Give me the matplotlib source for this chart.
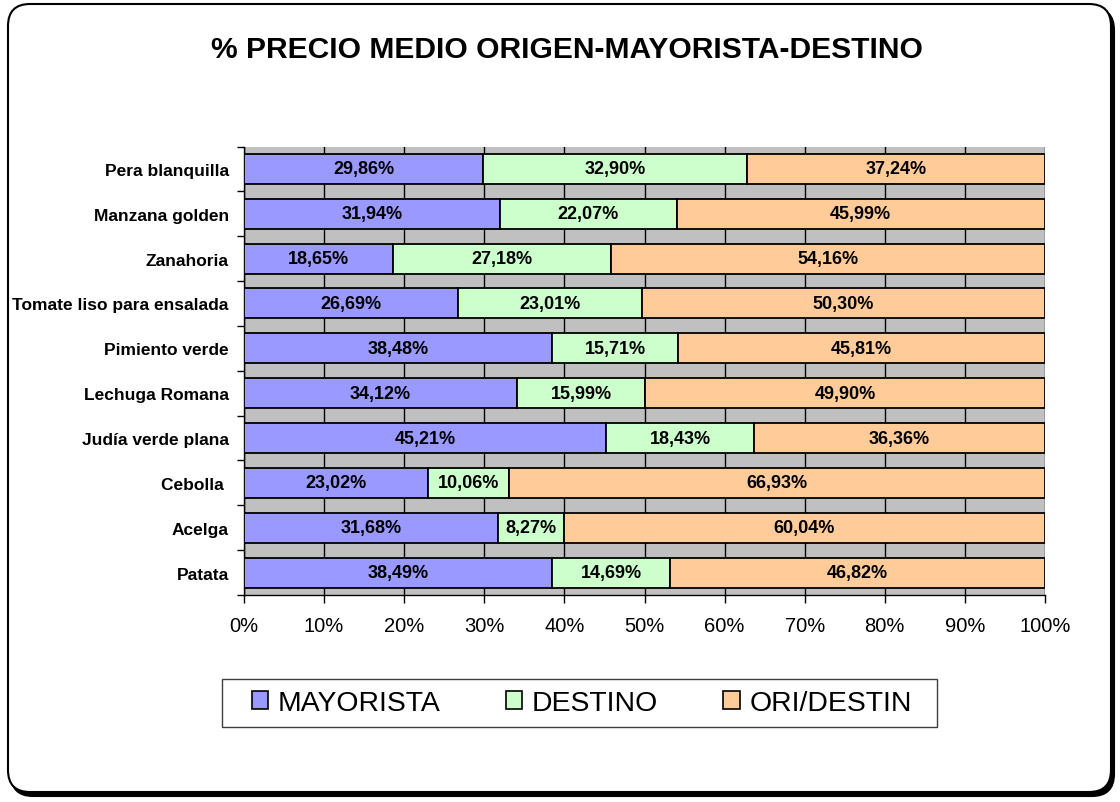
import matplotlib
matplotlib.use("Agg")
import matplotlib.pyplot as plt
from matplotlib.patches import FancyBboxPatch, Patch, Rectangle
from matplotlib.ticker import FixedLocator, MultipleLocator, PercentFormatter
import numpy as np

plt.rcParams['font.family'] = ['Liberation Sans', 'DejaVu Sans']

title = "% PRECIO MEDIO ORIGEN-MAYORISTA-DESTINO"
categories = [
    "Pera blanquilla",
    "Manzana golden",
    "Zanahoria",
    "Tomate liso para ensalada",
    "Pimiento verde",
    "Lechuga Romana",
    "Judía verde plana",
    "Cebolla ",
    "Acelga",
    "Patata",
]
series_names = ["MAYORISTA", "DESTINO", "ORI/DESTIN"]
mayorista = [29.86, 31.94, 18.65, 26.69, 38.48, 34.12, 45.21, 23.02, 31.68, 38.49]
destino = [32.90, 22.07, 27.18, 23.01, 15.71, 15.99, 18.43, 10.06, 8.27, 14.69]
ori_destin = [37.24, 45.99, 54.16, 50.30, 45.81, 49.90, 36.36, 66.93, 60.04, 46.82]
colors = ["#9999FF", "#CCFFCC", "#FFCC99"]

W, H = 1120, 803
fig = plt.figure(figsize=(W / 100, H / 100), dpi=100)

# Background frame with a rounded border and a drop shadow
bg = fig.add_axes([0, 0, 1, 1], zorder=-10)
bg.set_xlim(0, W)
bg.set_ylim(H, 0)
bg.axis("off")
shadow = FancyBboxPatch((8 + 3, 5 + 4), 1103, 788,
                        boxstyle="round,pad=0,rounding_size=22",
                        facecolor="black", edgecolor="black", lw=1.5)
frame = FancyBboxPatch((8, 5), 1103, 788,
                       boxstyle="round,pad=0,rounding_size=22",
                       facecolor="white", edgecolor="black", lw=1.5)
bg.add_patch(shadow)
bg.add_patch(frame)
# legend box
bg.add_patch(Rectangle((222, 680), 715, 48, facecolor="white",
                       edgecolor="#404040", lw=1))

fig.text(567 / W, 1 - 50 / H, title, ha="center", va="center",
         fontsize=21.6, fontweight="bold")

left, right, top, bottom = 244, 1045, 147.5, 596
ax = fig.add_axes([left / W, 1 - bottom / H, (right - left) / W, (bottom - top) / H])
ax.set_facecolor("#C0C0C0")

n = len(categories)
y = np.arange(n)[::-1]
bar_h = 0.67
data = [mayorista, destino, ori_destin]
base = np.zeros(n)
for vals, col, name in zip(data, colors, series_names):
    vals = np.array(vals)
    ax.barh(y, vals, left=base, height=bar_h, color=col, edgecolor="black",
            linewidth=1.3, label=name, zorder=3)
    for yi, b, v in zip(y, base, vals):
        ax.text(b + v / 2, yi, f"{v:.2f}%".replace(".", ","), ha="center",
                va="center", fontsize=13, fontweight="bold", zorder=4)
    base = base + vals

ax.set_xlim(0, 100)
ax.set_ylim(-0.5, n - 0.5)

ax.xaxis.set_major_locator(MultipleLocator(10))
ax.xaxis.set_major_formatter(PercentFormatter(decimals=0))
ax.grid(axis="x", color="black", linewidth=1.0, zorder=1)
ax.set_axisbelow(True)
ax.tick_params(axis="x", direction="out", length=6, width=1, labelsize=14.5, pad=9)

ax.yaxis.set_major_locator(FixedLocator(np.arange(-0.5, n, 1.0)))
ax.yaxis.set_major_formatter(plt.NullFormatter())
ax.set_yticks(y, minor=True)
ax.set_yticklabels(categories, minor=True, fontsize=12.5, fontweight="bold")
ax.tick_params(axis="y", which="major", direction="out", length=5, width=1)
ax.tick_params(axis="y", which="minor", length=0, pad=11)

for s in ["top", "right"]:
    ax.spines[s].set_visible(False)
for s in ["left", "bottom"]:
    ax.spines[s].set_color("black")
    ax.spines[s].set_linewidth(1)

handles = [Patch(facecolor=c, edgecolor="black", lw=1.2) for c in colors]
leg = fig.legend(handles, series_names, loc="center",
                 bbox_to_anchor=(582 / W, 1 - 704 / H), ncol=3,
                 fontsize=20.4, frameon=False,
                 handlelength=0.57, handleheight=0.57, handletextpad=0.35,
                 columnspacing=2.3, borderpad=0.2, borderaxespad=0)

fig.savefig("out.png", dpi=100)
